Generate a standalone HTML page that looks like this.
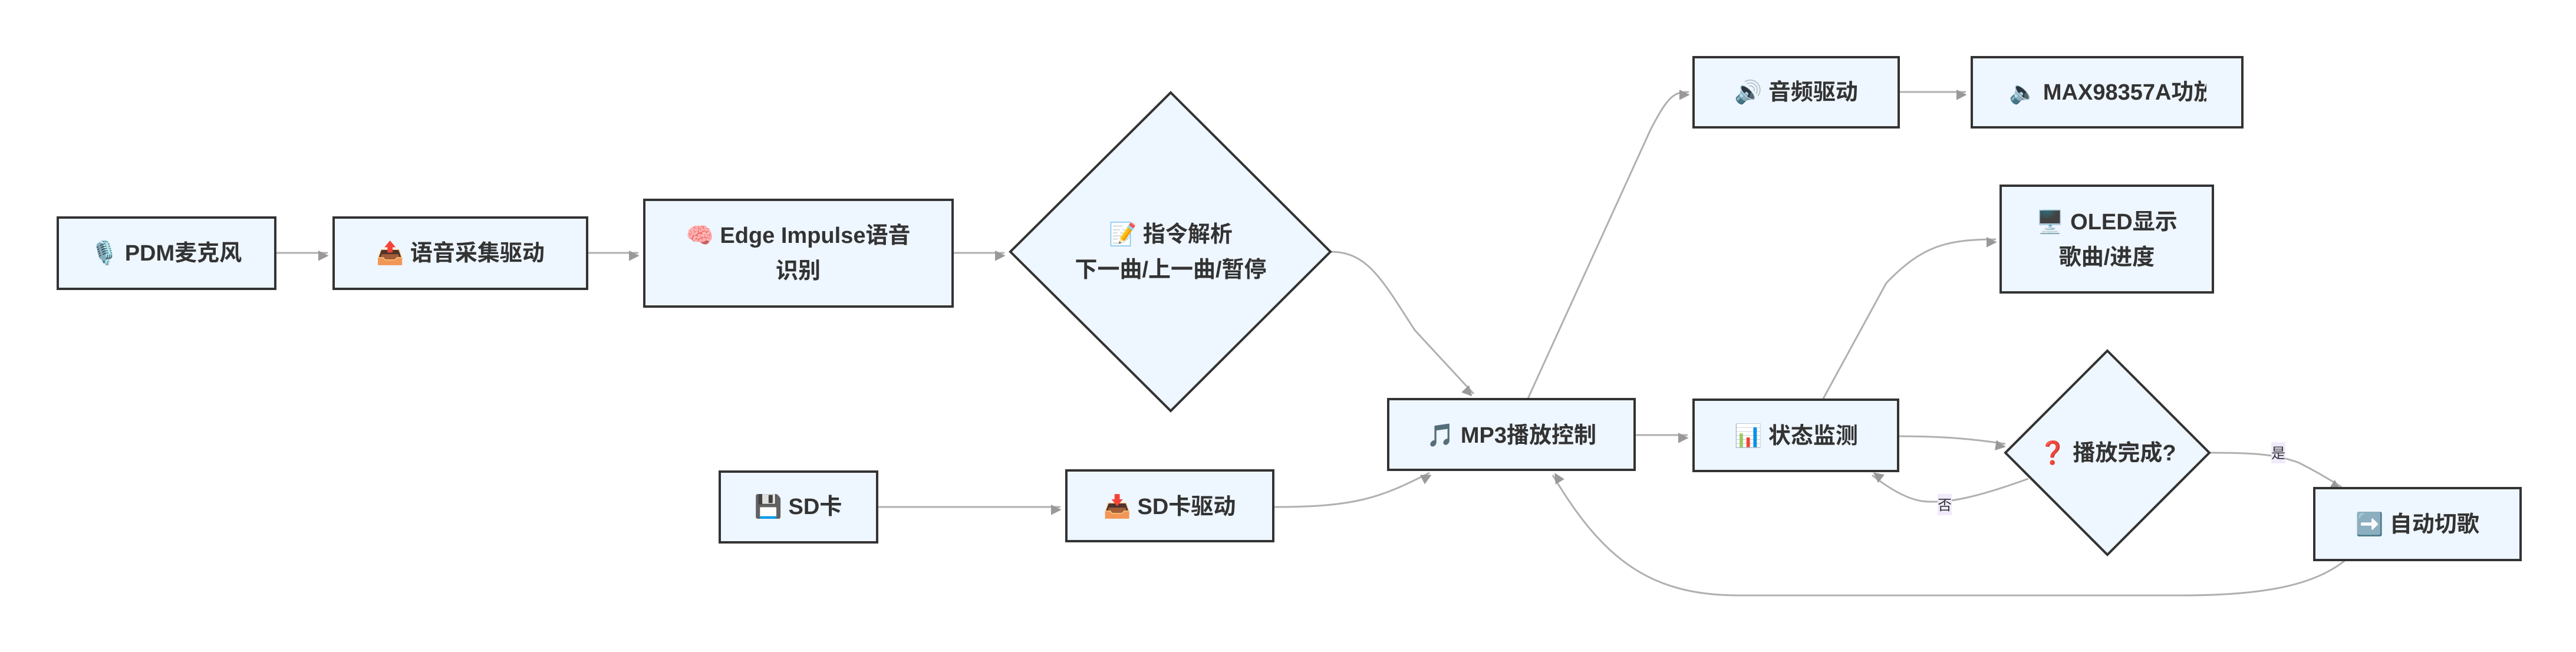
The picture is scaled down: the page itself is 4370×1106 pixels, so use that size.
<!DOCTYPE html>
<html><head><meta charset="utf-8"><style>
html,body{margin:0;padding:0;background:#fff;}
svg{display:block;}
text{font-family:"Liberation Sans","Noto Sans CJK SC","DejaVu Sans",sans-serif;font-weight:bold;font-size:38px;fill:#333;}
.lbl{font-weight:normal;font-size:24px;fill:#333;}
</style></head><body>
<svg width="4370" height="1106" viewBox="0 0 4370 1106" xmlns="http://www.w3.org/2000/svg">
<defs>
<marker id="a" viewBox="0 0 10 10" refX="9" refY="5" markerWidth="8" markerHeight="8" markerUnits="userSpaceOnUse" orient="auto" style="overflow:visible">
<path d="M0,0 L10,5 L0,10 z" fill="#999" transform="scale(2.2) translate(-5,-0)"/>
</marker>
<clipPath id="c1"><rect x="3345" y="97" width="398" height="119"/></clipPath>
</defs>
<g fill="none" stroke="#b0b0b0" stroke-width="3">
<path d="M467,429 L556,429" marker-end="url(#a)"/>
<path d="M996,429 L1083,429" marker-end="url(#a)"/>
<path d="M1616,429 L1704,429" marker-end="url(#a)"/>
<path d="M1488,860 L1799,860" marker-end="url(#a)"/>
<path d="M2773,738 L2863,738" marker-end="url(#a)"/>
<path d="M3221,156 L3335,156" marker-end="url(#a)"/>
<path d="M2257,427 C2320,427 2345,475 2400,560 L2500,668" marker-end="url(#a)"/>
<path d="M2160,860 C2300,860 2340,845 2425,802" marker-end="url(#a)"/>
<path d="M2592,676 L2800,220 C2830,162 2840,156 2865,156" marker-end="url(#a)"/>
<path d="M3092,678 L3200,480 C3260,418 3300,406 3386,406" marker-end="url(#a)"/>
<path d="M3220,740 C3300,740 3350,745 3402,753" marker-end="url(#a)"/>
<path d="M3441,812 C3350,845 3300,855 3260,850 C3230,845 3200,825 3176,806" marker-end="url(#a)"/>
<path d="M3748,768 C3820,768 3860,770 3900,785 C3930,800 3950,812 3972,826" marker-end="url(#a)"/>
<path d="M3979,950 C3930,990 3850,1010 3700,1010 L2950,1010 C2800,1010 2720,950 2634,806" marker-end="url(#a)"/>
</g>
<g fill="#eef6ff" stroke="#333" stroke-width="4">
<rect x="98" y="369" width="369" height="121"/>
<rect x="566" y="369" width="430" height="121"/>
<rect x="1093" y="339" width="523" height="181"/>
<polygon points="1986,157 2257,427 1986,697 1714,427"/>
<rect x="1221" y="800" width="267" height="120"/>
<rect x="1809" y="798" width="351" height="120"/>
<rect x="2355" y="677" width="418" height="120"/>
<rect x="2873" y="97" width="348" height="119"/>
<rect x="3345" y="97" width="459" height="119"/>
<rect x="3394" y="315" width="360" height="181"/>
<rect x="2873" y="678" width="347" height="121"/>
<polygon points="3575,595 3748,768 3575,941 3402,768"/>
<rect x="3926" y="828" width="350" height="122"/>
</g>
<g text-anchor="middle">
<text x="282" y="442">🎙️ PDM麦克风</text>
<text x="781" y="442">📤 语音采集驱动</text>
<text x="1354" y="412">🧠 Edge Impulse语音</text>
<text x="1354" y="472">识别</text>
<text x="1986" y="410">📝 指令解析</text>
<text x="1986" y="470">下一曲/上一曲/暂停</text>
<text x="1354" y="872">💾 SD卡</text>
<text x="1984" y="872">📥 SD卡驱动</text>
<text x="2564" y="751">🎵 MP3播放控制</text>
<text x="3047" y="169">🔊 音频驱动</text>
<text x="3574" y="389">🖥️ OLED显示</text>
<text x="3574" y="449">歌曲/进度</text>
<text x="3047" y="752">📊 状态监测</text>
<text x="3575" y="781">❓ 播放完成?</text>
<text x="4101" y="902">➡️ 自动切歌</text>
</g>
<text x="3408" y="169" clip-path="url(#c1)">🔈 MAX98357A功放</text>
<rect x="3853" y="750" width="24" height="36" fill="#f1eafc"/>
<text class="lbl" x="3865" y="777" text-anchor="middle">是</text>
<rect x="3287" y="838" width="24" height="36" fill="#f1eafc"/>
<text class="lbl" x="3299" y="865" text-anchor="middle">否</text>
</svg>
</body></html>
